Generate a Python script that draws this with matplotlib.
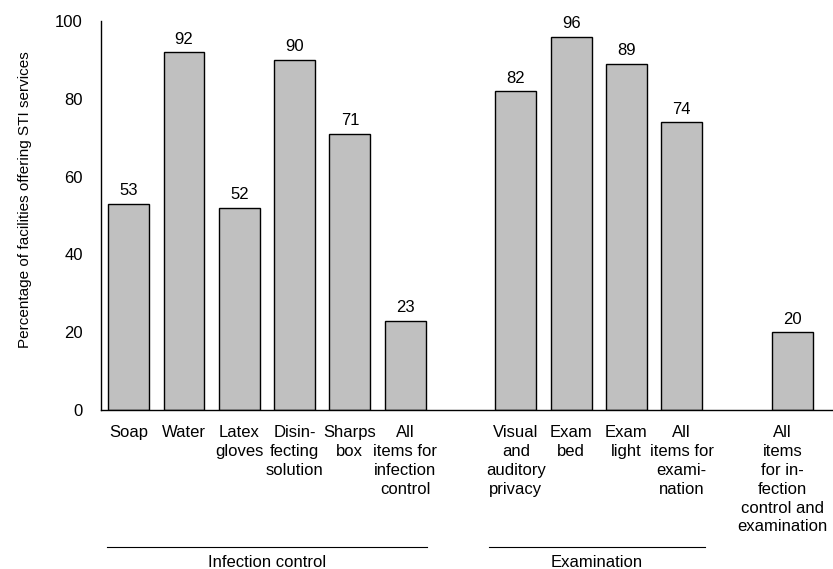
import matplotlib
matplotlib.use("Agg")
import matplotlib.pyplot as plt
import matplotlib.transforms as mtransforms

plt.rcParams['font.family'] = ['Liberation Sans', 'DejaVu Sans']

# data
labels = ["Soap", "Water", "Latex\ngloves", "Disin-\nfecting\nsolution", "Sharps\nbox",
          "All\nitems for\ninfection\ncontrol",
          "Visual\nand\nauditory\nprivacy", "Exam\nbed", "Exam\nlight",
          "All\nitems for\nexami-\nnation",
          "All\nitems\nfor in-\nfection\ncontrol and\nexamination"]
values = [53, 92, 52, 90, 71, 23, 82, 96, 89, 74, 20]
positions = [0, 1, 2, 3, 4, 5, 7, 8, 9, 10, 12]

groups = ["Infection control", "Examination"]
group_spans = [(-0.39, 5.39), (6.52, 10.42)]

fig = plt.figure(figsize=(8.33, 5.69), dpi=100)
ax = fig.add_axes([0.1213, 0.2794, 0.8777, 0.6836])

bars = ax.bar(positions, values, width=0.74, color='#c0c0c0', edgecolor='black', linewidth=1)
for p, v in zip(positions, values):
    ax.annotate(str(v), (p, v), xytext=(0, 4), textcoords='offset points',
                ha='center', va='bottom', fontsize=12)

ax.set_xlim(-0.5, 12.72)
ax.set_ylim(0, 100)
ax.set_yticks([0, 20, 40, 60, 80, 100])
ax.set_xticks(positions)
ax.set_xticklabels(labels, fontsize=12, linespacing=1.32)
ax.tick_params(axis='x', length=0, pad=11)
ax.tick_params(axis='y', length=0, pad=13, labelsize=12)
ax.set_ylabel("Percentage of facilities offering STI services", fontsize=11)
ax.yaxis.set_label_coords(-0.095, 0.542)

# last label nudged left so it fits inside the figure
last = ax.get_xticklabels()[-1]
last.set_transform(last.get_transform() +
                   mtransforms.ScaledTranslation(-10 / 100, 0, fig.dpi_scale_trans))

for s in ['top', 'right']:
    ax.spines[s].set_visible(False)
ax.spines['left'].set_linewidth(1)
ax.spines['bottom'].set_linewidth(1)

trans = mtransforms.blended_transform_factory(ax.transData, ax.transAxes)
for name, (x0, x1) in zip(groups, group_spans):
    ax.plot([x0, x1], [-0.352, -0.352], color='black', linewidth=0.8,
            transform=trans, clip_on=False)
    ax.text((x0 + x1) / 2, -0.372, name, transform=trans, ha='center', va='top', fontsize=12)

fig.savefig("out.png", dpi=100)
